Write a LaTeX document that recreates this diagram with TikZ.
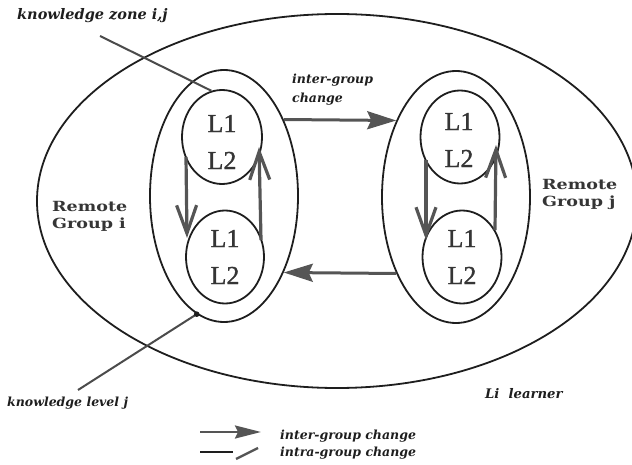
\documentclass[tikz,border=0pt]{standalone}
\usepackage{fontspec}
\setmainfont{Liberation Serif}
\newfontfamily\labfont{DejaVu Serif}
\newfontfamily\grpfont[FakeStretch=1.25]{DejaVu Serif}
\newfontfamily\lvlfont[FakeBold=1.2]{Liberation Serif}
\usetikzlibrary{shapes.geometric,arrows.meta}
\definecolor{ink}{HTML}{1E1E1E}
\definecolor{agray}{HTML}{555555}
\begin{document}
\begin{tikzpicture}[x=1pt,y=-1pt,
  oval/.style={ellipse,draw=ink,line width=1.8pt,inner sep=0pt},
  lvl/.style={font=\lvlfont\fontsize{26}{37}\selectfont,align=center,text=ink!90,inner sep=0pt},
  lab/.style={font=\labfont\bfseries\itshape\fontsize{12.5}{15}\selectfont,text=ink,inner sep=0pt},
  grp/.style={font=\grpfont\bfseries\fontsize{14}{17}\selectfont,text=ink!90,align=left,inner sep=0pt,anchor=west},
  inter/.style={draw=agray,line width=3pt,-{Stealth[length=29pt,width=18pt,inset=4pt,fill=agray]}},
  intra/.style={draw=agray,line width=3.2pt,-{Straight Barb[length=28pt,width=20pt,line width=3.2pt]}},
  pointer/.style={draw=ink!80,line width=2pt}]
\useasboundingbox (0,0) rectangle (632,465);
\begin{scope}
\clip (0,0) rectangle (632,465);
\node[oval,minimum width=600pt,minimum height=374pt] (outer) at (337,201) {};
\end{scope}
% groups
\node[oval,minimum width=148pt,minimum height=252pt] (gi) at (224,196) {};
\node[oval,minimum width=148pt,minimum height=252pt] (gj) at (456,197) {};
% knowledge zones
\node[oval,minimum width=80pt,minimum height=94pt] (ci1) at (222,137) {};
\node[oval,minimum width=78pt,minimum height=93pt] (ci2) at (225,257) {};
\node[oval,minimum width=79pt,minimum height=93pt] (cj1) at (460,137) {};
\node[oval,minimum width=79pt,minimum height=93pt] (cj2) at (462,257) {};
\node[lvl] (ti1) at (222,142) {L1\\L2};
\node[lvl] (ti2) at (225,257) {L1\\L2};
\node[lvl] (tj1) at (459,140) {L1\\L2};
\node[lvl] (tj2) at (462,257) {L1\\L2};
% intra-group arrows
\coordinate (ia) at (186,157); \coordinate (ib) at (187,238);
\coordinate (ic) at (261,240); \coordinate (id) at (259,147);
\coordinate (ja) at (426,160); \coordinate (jb) at (426,240);
\coordinate (jc) at (495,230); \coordinate (jd) at (496,145);
\draw[intra] (ia) -- (ib);
\draw[intra] (ic) -- (id);
\draw[intra] (ja) -- (jb);
\draw[intra] (jc) -- (jd);
% inter-group arrows
\draw[inter] (gi.52) -- (gj.128);
\draw[inter] (gj.232) -- (gi.308);
% labels
\node[lab,anchor=west,font=\labfont\bfseries\itshape\fontsize{14.5}{17}\selectfont] (kz) at (17,16) {knowledge zone i,j};
\coordinate (kzs) at (100,36);
\draw[pointer] (kzs) -- (ci1.103);
\node[lab,anchor=west] (kl) at (7,403) {knowledge level j};
\coordinate (kls) at (78,390);
\draw[pointer] (kls) -- (gi.257);
\fill[ink] (gi.257) circle (2.8pt);
\node[lab,anchor=west,align=left,font=\labfont\bfseries\itshape\fontsize{12.5}{19}\selectfont] (igc) at (292,90) {inter-group\\change};
\node[grp] (rgi) at (52,216) {Remote\\Group i};
\node[grp] (rgj) at (542,194) {Remote\\Group j};
\node[lab,anchor=west,font=\labfont\bfseries\itshape\fontsize{13.2}{16}\selectfont] (li) at (485,394) {Li\ \ learner};
% legend
\coordinate (l1a) at (200,432); \coordinate (l1b) at (261,432);
\draw[draw=agray,line width=2.4pt,-{Stealth[length=26pt,width=13pt,inset=3pt,fill=agray]}] (l1a) -- (l1b);
\node[lab,anchor=west] (lt1) at (280,436) {inter-group change};
\coordinate (l2a) at (200,452); \coordinate (l2b) at (233,452);
\coordinate (l2c) at (236,459); \coordinate (l2d) at (258,448);
\draw[ink,line width=2pt] (l2a) -- (l2b);
\draw[agray,line width=2.4pt] (l2c) -- (l2d);
\node[lab,anchor=west] (lt2) at (280,453) {intra-group change};
\end{tikzpicture}
\end{document}
